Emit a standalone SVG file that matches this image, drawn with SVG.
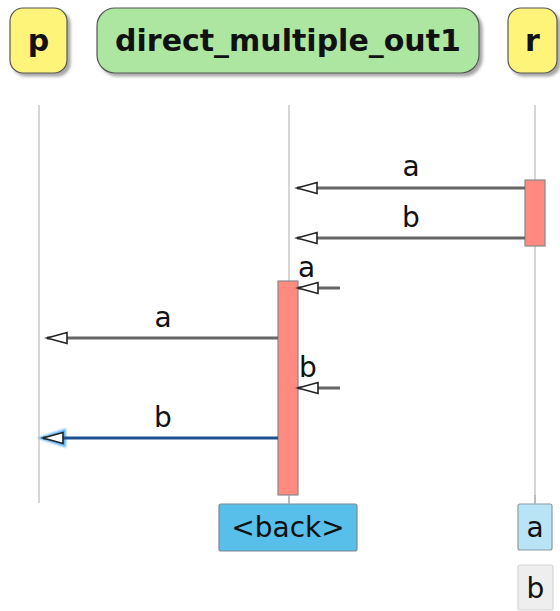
<svg xmlns="http://www.w3.org/2000/svg" width="560" height="611" viewBox="0 0 560 611">
<style>
.hdr{font-family:"DejaVu Sans",sans-serif;font-weight:bold;font-size:30px;fill:#111;text-anchor:middle}
.lbl{font-family:"DejaVu Sans",sans-serif;font-size:28px;fill:#111}
.mid{text-anchor:middle}
.life{stroke:#c8c8c8;stroke-width:1.5}
.act{fill:#ff8a80;stroke:#888;stroke-width:1.2}
.msg{stroke:#666;stroke-width:3;fill:none}
</style>
<defs>
<filter id="sh" x="-20%" y="-20%" width="140%" height="140%">
<feDropShadow dx="3" dy="3" stdDeviation="1.5" flood-color="#000" flood-opacity="0.35"/>
</filter>
<filter id="glow" x="-10%" y="-100%" width="120%" height="300%">
<feGaussianBlur stdDeviation="1"/>
</filter>
<marker id="ah" markerWidth="24" markerHeight="14" refX="21" refY="7" orient="auto" markerUnits="userSpaceOnUse">
<polygon points="21,7 1,1.5 1,12.5" fill="#fff" stroke="#222" stroke-width="1.6" stroke-linejoin="miter"/>
</marker>
</defs>
<g id="lifelines">
<line class="life" x1="39" y1="105" x2="39" y2="503"/>
<line class="life" x1="289" y1="105" x2="289" y2="503"/>
<line class="life" x1="535" y1="105" x2="535" y2="503"/>
</g>
<g id="p">
<rect x="10" y="8" width="57" height="65" rx="13" fill="#fff47a" stroke="#555" stroke-width="1.2" filter="url(#sh)"/>
<text class="hdr" x="38.5" y="51">p</text>
</g>
<g id="direct_multiple_out1">
<rect x="97" y="8" width="382" height="65" rx="18" fill="#ace6a0" stroke="#555" stroke-width="1.2" filter="url(#sh)"/>
<text class="hdr" x="288" y="51">direct_multiple_out1</text>
</g>
<g id="r">
<rect x="508" y="8" width="49" height="65" rx="13" fill="#fff47a" stroke="#555" stroke-width="1.2" filter="url(#sh)"/>
<text class="hdr" x="532.5" y="51">r</text>
</g>
<g id="activations">
<rect class="act" x="525" y="180" width="20" height="66"/>
<rect class="act" x="278" y="281" width="20" height="214"/>
</g>
<g id="connectors">
<line class="msg" x1="525" y1="188" x2="297" y2="188" marker-end="url(#ah)"/>
<line class="msg" x1="525" y1="238" x2="297" y2="238" marker-end="url(#ah)"/>
<line class="msg" x1="340" y1="288" x2="298" y2="288" marker-end="url(#ah)"/>
<line class="msg" x1="278" y1="338" x2="47" y2="338" marker-end="url(#ah)"/>
<line class="msg" x1="340" y1="388" x2="298" y2="388" marker-end="url(#ah)"/>
<line x1="278" y1="438" x2="50" y2="438" stroke="#5ab0f5" stroke-width="7" filter="url(#glow)"/>
<polygon points="37,438 66,428.5 66,447.5" fill="#5ab0f5" filter="url(#glow)"/>
<line x1="278" y1="438" x2="43" y2="438" stroke="#1f4f8f" stroke-width="3" marker-end="url(#ah)"/>
<line x1="289" y1="495" x2="289" y2="504" stroke="#aaa" stroke-width="1.2"/>
<line x1="535" y1="495" x2="535" y2="504" stroke="#aaa" stroke-width="1.2"/>
</g>
<g id="labels">
<text class="lbl mid" x="411" y="176">a</text>
<text class="lbl mid" x="411" y="227">b</text>
<text class="lbl" x="298" y="277">a</text>
<text class="lbl mid" x="163" y="327">a</text>
<text class="lbl" x="299" y="377">b</text>
<text class="lbl mid" x="163" y="427">b</text>
</g>
<g id="back">
<rect x="219" y="504" width="138" height="47" rx="2" fill="#58bfea" stroke="#7a8a94" stroke-width="1.2"/>
<text class="lbl mid" x="288" y="537">&lt;back&gt;</text>
</g>
<g id="box_a">
<rect x="518" y="504" width="34" height="46" rx="2" fill="#b8e4f6" stroke="#8a9aa4" stroke-width="1.2"/>
<text class="lbl mid" x="535" y="537">a</text>
</g>
<g id="box_b">
<rect x="518" y="565" width="35" height="45" rx="2" fill="#eeeeee" stroke="#d6d6d6" stroke-width="1.2"/>
<text class="lbl mid" x="535.5" y="598">b</text>
</g>
</svg>
